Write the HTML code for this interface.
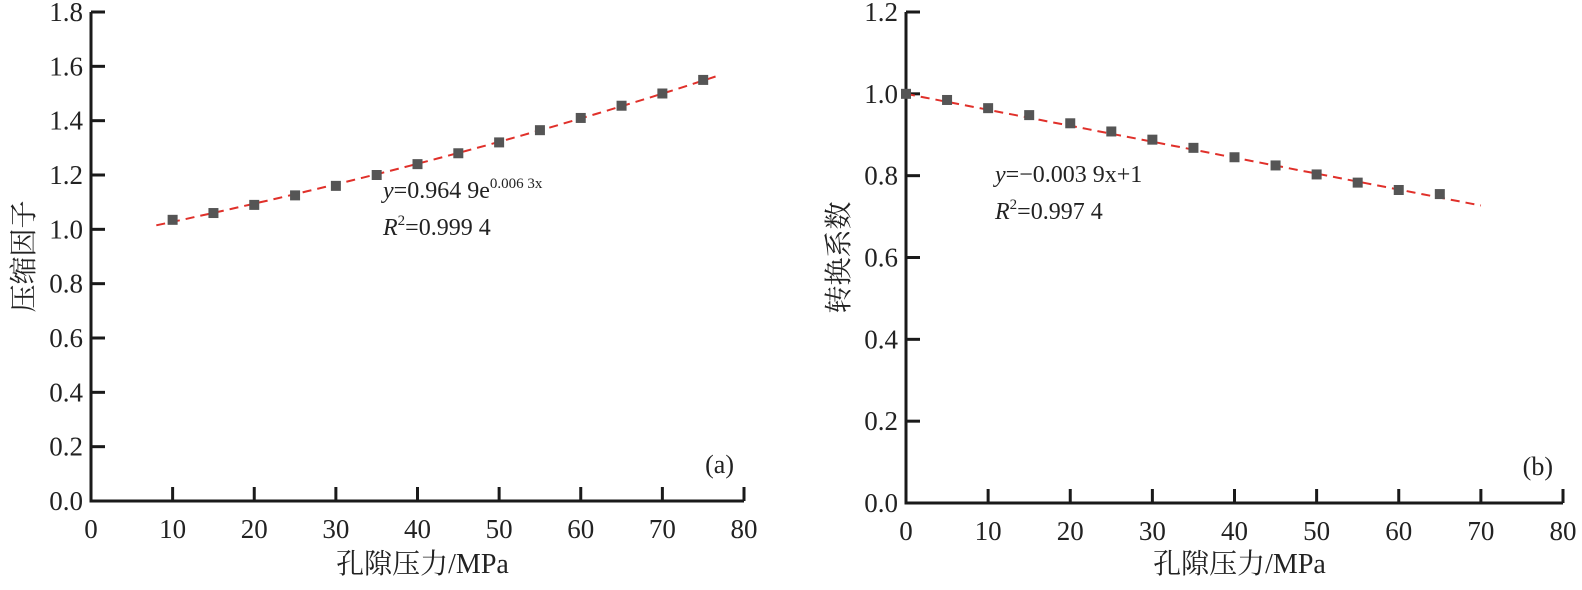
<!DOCTYPE html>
<html><head><meta charset="utf-8"><style>
body{margin:0;background:#fff}
svg text{font-family:"Liberation Serif","Noto Serif CJK SC",serif;fill:#222}
</style></head><body>
<svg id="c" width="1582" height="585" xmlns="http://www.w3.org/2000/svg"></svg>
<script>
const xTicks=[0,10,20,30,40,50,60,70,80];
const aYTicks=[0.0,0.2,0.4,0.6,0.8,1.0,1.2,1.4,1.6,1.8];
const bYTicks=[0.0,0.2,0.4,0.6,0.8,1.0,1.2];
const aX=[10,15,20,25,30,35,40,45,50,55,60,65,70,75];
const aY=[1.035,1.06,1.09,1.125,1.16,1.20,1.24,1.28,1.32,1.365,1.41,1.455,1.50,1.55];
const aFit=[0.9649,0.0063];const aFitRange=[8,77];
const bX=[0,5,10,15,20,25,30,35,40,45,50,55,60,65];
const bY=[1.0,0.985,0.965,0.948,0.928,0.908,0.888,0.868,0.845,0.825,0.803,0.783,0.765,0.755];
const bFit=[-0.0039,1];const bFitRange=[0,70];
const NS="http://www.w3.org/2000/svg";
const svg=document.getElementById('c');
function el(t,a,p){const e=document.createElementNS(NS,t);for(const k in a)e.setAttribute(k,a[k]);(p||svg).appendChild(e);return e;}
function panel(o){
 const g=el('g',{});
 
 
 const sx=v=>o.x0+(v-0)/80*(o.x1-o.x0);
 const sy=v=>o.y0-(v/o.ymax)*(o.y0-o.y1);
 const ax=el('path',{d:`M${o.x0},${o.y1}V${o.y0}H${o.x1}`,stroke:'#1a1a1a','stroke-width':3,fill:'none'},g);
 
 xTicks.forEach(t=>{const x=sx(t);
  const l=el('line',{x1:x,x2:x,y1:o.y0,y2:o.y0-14,stroke:'#1a1a1a','stroke-width':3},g);
  
  const tx=el('text',{x:x,y:o.y0+37,'text-anchor':'middle','font-size':27},g);tx.textContent=t;
  });
 o.yt.forEach(t=>{const y=sy(t);
  const l=el('line',{x1:o.x0,x2:o.x0+14,y1:y,y2:y,stroke:'#1a1a1a','stroke-width':3},g);
  
  const tx=el('text',{x:o.x0-8,y:y+9,'text-anchor':'end','font-size':27},g);tx.textContent=t.toFixed(1);
  });
 let d='';for(let i=0;i<=60;i++){const v=o.fr[0]+(o.fr[1]-o.fr[0])*i/60;d+=(i?'L':'M')+sx(v).toFixed(1)+','+sy(o.f(v)).toFixed(1);}
 const fl=el('path',{d:d,stroke:'#e0302a','stroke-width':2,'stroke-dasharray':'9,6',fill:'none'},g);
 
 o.xs.forEach((v,i)=>{const r=el('rect',{x:sx(v)-5,y:sy(o.ys[i])-5,width:10,height:10,fill:'#555'},g);
  });
 const xl=el('text',{x:(o.x0+o.x1)/2+5,y:573,'text-anchor':'middle','font-size':28},g);xl.textContent='孔隙压力/MPa';
 
 const yl=el('text',{x:0,y:0,'text-anchor':'middle','font-size':28,transform:`translate(${o.x0-58},${(o.y0+o.y1)/2}) rotate(-90)`},g);yl.textContent=o.ylab;
 
 const pl=el('text',{x:o.x1-10,y:o.y0-28,'text-anchor':'end','font-size':26},g);pl.textContent=o.tag;
 
 const e1=el('text',{x:o.ex,y:o.ey,'font-size':24},g);e1.innerHTML=o.eq;
 
 const e2=el('text',{x:o.ex,y:o.ey+37,'font-size':24},g);e2.innerHTML='<tspan font-style="italic">R</tspan><tspan font-size="15" dy="-10">2</tspan><tspan dy="10">=</tspan>'+o.r2;
 
}
panel({name:'panel-a',x0:91,x1:744,y0:501,y1:12,ymax:1.8,yt:aYTicks,xs:aX,ys:aY,fr:aFitRange,
 f:v=>aFit[0]*Math.exp(aFit[1]*v),ylab:'压缩因子',tag:'(a)',ex:383,ey:198,
 eq:'<tspan font-style="italic">y</tspan>=0.964 9e<tspan font-size="15" dy="-10">0.006 3x</tspan>',r2:'0.999 4'});
panel({name:'panel-b',x0:906,x1:1563,y0:503,y1:12,ymax:1.2,yt:bYTicks,xs:bX,ys:bY,fr:bFitRange,
 f:v=>bFit[0]*v+bFit[1],ylab:'转换系数',tag:'(b)',ex:995,ey:182,
 eq:'<tspan font-style="italic">y</tspan>=−0.003 9x+1',r2:'0.997 4'});
</script>
</body></html>
